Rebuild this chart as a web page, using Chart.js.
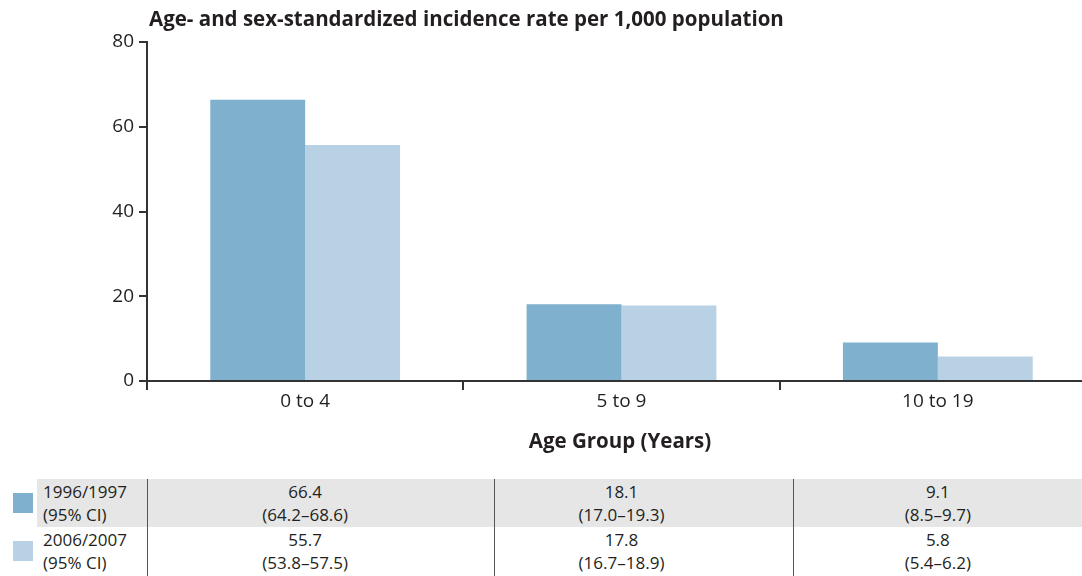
<!DOCTYPE html>
<html>
<head>
<meta charset="utf-8">
<script src="https://cdn.jsdelivr.net/npm/chart.js@4/dist/chart.umd.min.js"></script>
<style>
  html, body { margin: 0; padding: 0; background: #fff; }
  body { width: 1082px; height: 576px; position: relative; overflow: hidden;
         font-family: "Open Sans", Lato, sans-serif; color: #231f20; }
  #wrap { position: absolute; left: 0; top: 0; width: 1096px; height: 470px; }
  .abs { position: absolute; }
  .band { background: #e6e6e6; }
  .vline { background: #555; width: 1px; }
  .cell { font-size: 17px; line-height: 23px; text-align: center; white-space: nowrap; }
  .lab { font-size: 17px; line-height: 23px; white-space: nowrap; }
</style>
</head>
<body>
<div id="wrap"><canvas id="c"></canvas></div>
<div id="table"></div>
<script>
// Age groups and incidence rates per 1,000 (age- and sex-standardized)
const categories = ['0 to 4', '5 to 9', '10 to 19'];
const seriesNames = ['1996/1997', '2006/2007'];
const rates1996 = [66.4, 18.1, 9.1];
const rates2006 = [55.7, 17.8, 5.8];
const ci1996 = ['64.2–68.6', '17.0–19.3', '8.5–9.7'];
const ci2006 = ['53.8–57.5', '16.7–18.9', '5.4–6.2'];
const yTicks = [0, 20, 40, 60, 80];

const colors = ['#7fb0cd', '#b9d1e4'];
const FONT = '"Open Sans", Lato, sans-serif';
const INK = '#231f20';

const titles = {
  id: 'titles',
  afterDraw(chart) {
    const { ctx, chartArea } = chart;
    ctx.save();
    ctx.fillStyle = INK;
    ctx.font = 'bold 20.5px ' + FONT;
    ctx.textBaseline = 'middle';
    ctx.textAlign = 'left';
    ctx.fillText('Age- and sex-standardized incidence rate per 1,000 population', chartArea.left + 2, 20);
    ctx.textAlign = 'center';
    ctx.fillText('Age Group (Years)', 620, 442);
    ctx.restore();
  }
};

const chart = new Chart(document.getElementById('c'), {
  type: 'bar',
  data: {
    labels: categories,
    datasets: [
      { label: seriesNames[0], data: rates1996, backgroundColor: colors[0] },
      { label: seriesNames[1], data: rates2006, backgroundColor: colors[1] }
    ]
  },
  options: {
    responsive: true,
    maintainAspectRatio: false,
    animation: false,
    layout: { padding: { top: 42, right: 0, left: 0, bottom: 0 } },
    datasets: { bar: { categoryPercentage: 0.6, barPercentage: 1.0 } },
    plugins: { legend: { display: false }, tooltip: { enabled: false } },
    scales: {
      x: {
        grid: { offset: true, drawOnChartArea: false, drawTicks: true, tickLength: 9, color: '#333', lineWidth: 2 },
        border: { display: true, color: '#333', width: 2 },
        ticks: { color: INK, font: { size: 19, family: FONT }, padding: 0 },
        afterFit(s) { s.height = 470 - 42 - 339; }
      },
      y: {
        min: 0, max: 80,
        afterBuildTicks(s) { s.ticks = yTicks.map(v => ({ value: v })); },
        grid: { drawOnChartArea: false, drawTicks: true, tickLength: 8, color: '#333', lineWidth: 2 },
        border: { display: true, color: '#333', width: 2 },
        ticks: { color: INK, font: { size: 19, family: FONT }, padding: 5 },
        afterFit(s) { s.width = 147; }
      }
    }
  },
  plugins: [titles]
});

// Data table under the chart, values centred under each age group
function buildTable() {
  const t = document.getElementById('table');
  const add = (cls, style, html) => {
    const d = document.createElement('div');
    d.className = 'abs ' + cls;
    Object.assign(d.style, style);
    if (html !== undefined) d.innerHTML = html;
    t.appendChild(d);
    return d;
  };
  const rowTop = 479, rowH = 48;
  add('band', { left: '37px', top: rowTop + 'px', width: '1045px', height: rowH + 'px' });
  [147, 494, 793].forEach(x => add('vline', { left: x + 'px', top: rowTop + 'px', height: (576 - rowTop) + 'px' }));
  const rows = [
    { name: seriesNames[0], vals: rates1996, ci: ci1996 },
    { name: seriesNames[1], vals: rates2006, ci: ci2006 }
  ];
  rows.forEach((r, i) => {
    const top = rowTop + i * rowH + 1;
    add('', { left: '13px', top: (top + 13) + 'px', width: '20px', height: '20px', background: colors[i] });
    add('lab', { left: '43px', top: top + 'px' }, r.name + '<br>(95% CI)');
    categories.forEach((c, j) => {
      const cx = chart.scales.x.getPixelForValue(j);
      add('cell', { left: (cx - 100) + 'px', width: '200px', top: top + 'px' },
          r.vals[j].toFixed(1) + '<br>(' + r.ci[j] + ')');
    });
  });
}
buildTable();
</script>
</body>
</html>
